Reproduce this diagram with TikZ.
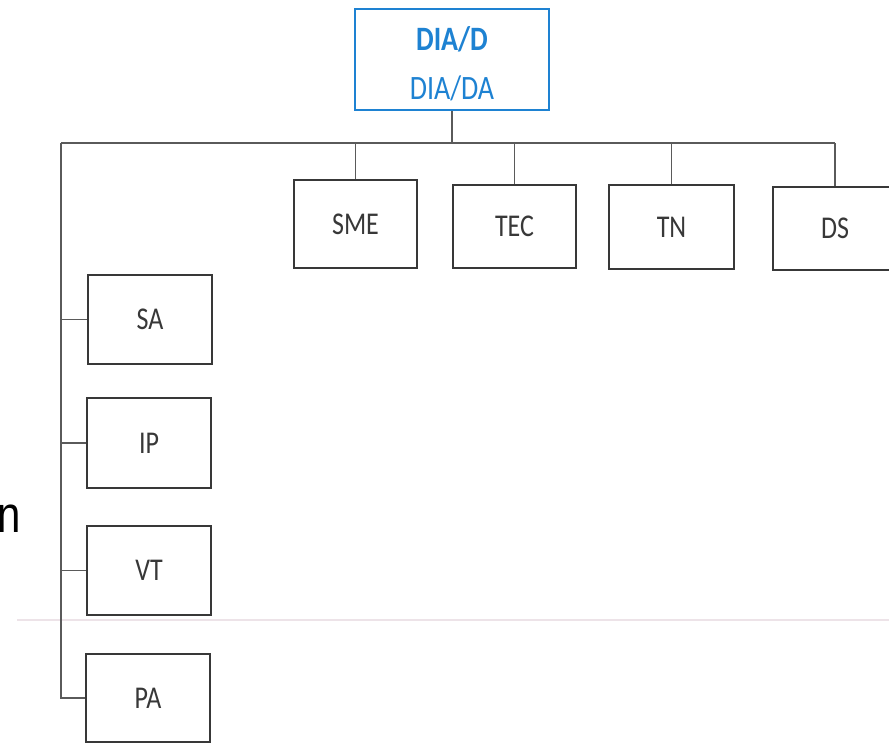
\documentclass[tikz,border=0pt]{standalone}
\usepackage{fontspec}
\usepackage{graphicx}
\setmainfont{Carlito}
\newfontfamily\arialfont{Liberation Sans}
\definecolor{topblue}{HTML}{1E82D2}
\definecolor{boxgray}{HTML}{383838}
\definecolor{linegray}{HTML}{5A5A5A}
\definecolor{faintpink}{HTML}{EDE3E8}
\newcommand\stretchtxt[1]{\scalebox{1}[1.22]{#1}}
\begin{document}
\begin{tikzpicture}[x=1pt,y=-1pt,
  unitbox/.style={draw=boxgray, line width=2.8pt, rectangle, inner sep=0pt,
    minimum width=123pt, minimum height=88pt, text=boxgray,
    font=\fontsize{26}{30}\selectfont},
  headbox/.style={draw=topblue, line width=2.4pt, rectangle, inner sep=0pt,
    minimum width=194pt, minimum height=101pt},
  headtext/.style={inner sep=0pt, text=topblue, font=\fontsize{28}{32}\selectfont},
  conn/.style={draw=linegray, line width=1.3pt}]
\useasboundingbox (0,0) rectangle (889,744);
\clip (0,0) rectangle (889,744);
% faint horizontal rule
\coordinate (ruleL) at (17,620);
\coordinate (ruleR) at (889,620);
\draw[faintpink, line width=1.2pt] (ruleL) -- (ruleR);
% stray letter
\node[anchor=base east, inner sep=0pt, font=\arialfont\fontsize{42}{46}\selectfont] (nchar) at (21,532) {\stretchtxt{n}};
% head
\node[headbox] (head) at (452,59.5) {};
\node[headtext, font=\fontsize{28}{32}\selectfont\bfseries] (headtitle) at (452,39) {\stretchtxt{DIA/D}};
\node[headtext] (headsub) at (452,88) {\stretchtxt{DIA/DA}};
% top row
\node[unitbox] (sme) at (355.5,224) {\stretchtxt{SME}};
\node[unitbox, minimum height=83pt] (tec) at (514.5,226.5) {\stretchtxt{TEC}};
\node[unitbox, minimum width=125pt, minimum height=84pt] (tn) at (671.5,227) {\stretchtxt{TN}};
\node[unitbox, minimum width=124pt, minimum height=83pt] (ds) at (835,228.5) {\stretchtxt{DS}};
% left column
\node[unitbox, minimum width=124pt, minimum height=89pt] (sa) at (150,319.5) {\stretchtxt{SA}};
\node[unitbox, minimum width=124pt, minimum height=90pt] (ip) at (149,443) {\stretchtxt{IP}};
\node[unitbox, minimum width=124pt, minimum height=89pt] (vt) at (149,570.5) {\stretchtxt{VT}};
\node[unitbox, minimum width=124pt, minimum height=88pt] (pa) at (148,698) {\stretchtxt{PA}};
% bus
\coordinate (busL) at (61,143);
\coordinate (busR) at (835,143);
\coordinate (busM) at (452,143);
\draw[conn] (head.south) -- (busM);
\draw[conn] (busL) -- (busR);
\draw[conn] (sme.north |- busL) -- (sme.north);
\draw[conn] (tec.north |- busL) -- (tec.north);
\draw[conn] (tn.north |- busL) -- (tn.north);
\draw[conn] (busR) -- (ds.north);
\draw[conn] (busL) -- (busL |- pa.west) -- (pa.west);
\draw[conn] (sa.west -| busL) -- (sa.west);
\draw[conn] (ip.west -| busL) -- (ip.west);
\draw[conn] (vt.west -| busL) -- (vt.west);
\end{tikzpicture}
\end{document}
